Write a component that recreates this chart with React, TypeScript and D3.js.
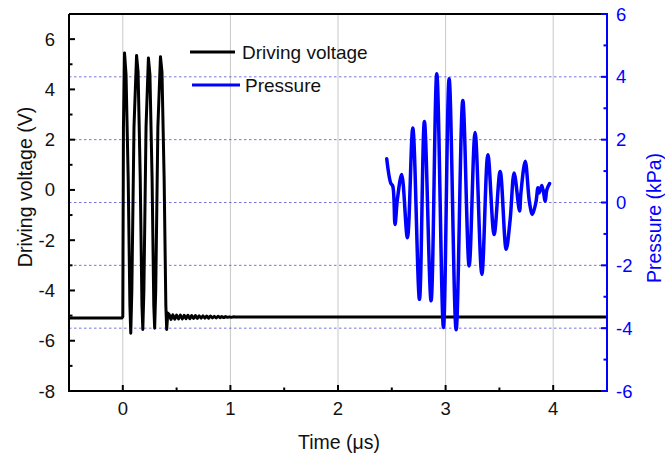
import React from "react";
import * as d3 from "d3";

const W = 665, H = 458;
const L = 69, R = 607, T = 14, B = 391;

const xTicks = [0, 1, 2, 3, 4];
const xMinor = [0.5, 1.5, 2.5, 3.5];
const leftTicks = [-8, -6, -4, -2, 0, 2, 4, 6];
const leftMinor = [-7, -5, -3, -1, 1, 3, 5];
const rightTicks = [-6, -4, -2, 0, 2, 4, 6];
const rightMinor = [-5, -3, -1, 1, 3, 5];
const rightGrid = [-4, -2, 0, 2, 4];

// Driving voltage (V) vs time (µs)
const voltT = [-0.5, -0.01, 0.0, 0.006, 0.016, 0.03, 0.05, 0.066, 0.074,
  0.084, 0.104, 0.128, 0.142, 0.162, 0.178, 0.186,
  0.196, 0.216, 0.238, 0.252, 0.272, 0.288, 0.296,
  0.306, 0.326, 0.35, 0.364, 0.384, 0.4, 0.408, 0.418,
  0.43, 0.448, 0.465, 0.483, 0.50, 0.518, 0.535, 0.553, 0.57, 0.588,
  0.605, 0.623, 0.64, 0.658, 0.675, 0.693, 0.71, 0.728, 0.745, 0.763,
  0.78, 0.798, 0.815, 0.833, 0.85, 0.868, 0.885, 0.903, 0.92, 0.938,
  0.955, 0.973, 0.99, 1.008, 1.025, 1.05, 4.5];
const voltV = [-5.1, -5.1, -5.05, 2.5, 5.45, 4.6, 0.5, -4.6, -5.7,
  -4.0, 2.5, 5.35, 4.7, 0.5, -4.6, -5.55,
  -4.0, 2.5, 5.25, 4.6, 0.5, -4.6, -5.5,
  -4.0, 2.5, 5.3, 4.7, 0.5, -4.6, -5.55, -4.9,
  -4.95, -5.15, -4.97, -5.14, -4.98, -5.13, -4.98, -5.13, -4.99, -5.12,
  -4.99, -5.12, -5.0, -5.11, -5.0, -5.11, -5.01, -5.1, -5.01, -5.1,
  -5.02, -5.1, -5.02, -5.09, -5.03, -5.09, -5.03, -5.08, -5.04, -5.08,
  -5.04, -5.07, -5.05, -5.07, -5.05, -5.06, -5.06];

// Pressure (kPa) vs time (µs)
const presT = [2.453, 2.49, 2.509, 2.53, 2.552, 2.592, 2.645, 2.695, 2.757, 2.803, 2.865, 2.918, 2.98, 3.033, 3.098, 3.16, 3.219, 3.274, 3.337, 3.393, 3.451, 3.507, 3.563, 3.6, 3.637, 3.687, 3.70, 3.74, 3.78, 3.807, 3.839, 3.858, 3.868, 3.895, 3.926, 3.94, 3.966];
const presP = [1.39, 0.62, 0.52, -0.70, 0.1, 0.89, -1.12, 2.37, -3.08, 2.58, -3.13, 4.10, -3.98, 3.94, -4.05, 3.25, -2.02, 2.23, -2.29, 1.52, -1.02, 0.99, -1.49, -0.54, 0.94, -0.27, 0.31, 1.31, -0.01, -0.38, 0.0, 0.47, 0.3, 0.54, 0.04, 0.4, 0.6];

const FONT = "'Liberation Sans', Arial, sans-serif";
const BLUE = "#0000ff";

export default function App() {
  const x = d3.scaleLinear().domain([-0.5, 4.5]).range([L, R]);
  const yL = d3.scaleLinear().domain([-8, 7]).range([B, T]);
  const yR = d3.scaleLinear().domain([-6, 6]).range([B, T]);

  const voltLine = d3.line<number>().x((_, i) => x(voltT[i])).y((v) => yL(v));
  const presLine = d3
    .line<number>()
    .x((_, i) => x(presT[i]))
    .y((p) => yR(p))
    .curve(d3.curveCatmullRom.alpha(0.5));

  return (
    <svg width={W} height={H} style={{ position: "absolute", left: 0, top: 0, background: "#fff" }} fontFamily={FONT}>
      <defs>
        <clipPath id="plot">
          <rect x={L} y={T} width={R - L} height={B - T} />
        </clipPath>
      </defs>
      {xTicks.map((t) => (
        <line key={"gx" + t} x1={x(t)} x2={x(t)} y1={T} y2={B} stroke="#c8c8c8" strokeWidth={1} />
      ))}
      {rightGrid.map((t) => (
        <line key={"gy" + t} x1={L} x2={R} y1={yR(t)} y2={yR(t)} stroke="#5050d0" strokeWidth={0.8} strokeDasharray="2.5,2.5" />
      ))}
      <g clipPath="url(#plot)">
        <path d={voltLine(voltV) || ""} fill="none" stroke="#000" strokeWidth={3} strokeLinejoin="round" />
        <path d={presLine(presP) || ""} fill="none" stroke={BLUE} strokeWidth={3.5} strokeLinejoin="round" strokeLinecap="round" />
      </g>
      <line x1={L} x2={R} y1={T} y2={T} stroke="#000" strokeWidth={2} />
      <line x1={L} x2={R} y1={B} y2={B} stroke="#000" strokeWidth={2} />
      <line x1={L} x2={L} y1={T} y2={B + 1} stroke="#000" strokeWidth={2} />
      <line x1={R} x2={R} y1={T - 1} y2={B + 1} stroke={BLUE} strokeWidth={2} />
      {xTicks.map((t) => (
        <g key={"xt" + t}>
          <line x1={x(t)} x2={x(t)} y1={B} y2={B - 6} stroke="#000" strokeWidth={2} />
          <text x={x(t)} y={B + 24} textAnchor="middle" fontSize={18.5} fill="#111">{t}</text>
        </g>
      ))}
      {xMinor.map((t) => (
        <line key={"xm" + t} x1={x(t)} x2={x(t)} y1={B} y2={B - 3.5} stroke="#000" strokeWidth={2} />
      ))}
      {leftTicks.map((t) => (
        <g key={"lt" + t}>
          <line x1={L} x2={L + 6} y1={yL(t)} y2={yL(t)} stroke="#000" strokeWidth={2} />
          <text x={L - 14} y={yL(t) + 6.5} textAnchor="end" fontSize={18.5} fill="#111">{t}</text>
        </g>
      ))}
      {leftMinor.map((t) => (
        <line key={"lm" + t} x1={L} x2={L + 3.5} y1={yL(t)} y2={yL(t)} stroke="#000" strokeWidth={2} />
      ))}
      {rightTicks.map((t) => (
        <g key={"rt" + t}>
          <line x1={R} x2={R - 6} y1={yR(t)} y2={yR(t)} stroke={BLUE} strokeWidth={2} />
          <text x={R + 9} y={yR(t) + 6.5} textAnchor="start" fontSize={18.5} fill={BLUE}>{t}</text>
        </g>
      ))}
      {rightMinor.map((t) => (
        <line key={"rm" + t} x1={R} x2={R - 3.5} y1={yR(t)} y2={yR(t)} stroke={BLUE} strokeWidth={2} />
      ))}
      <text x={339} y={449} textAnchor="middle" fontSize={19.5} fill="#111">Time (μs)</text>
      <text transform={`translate(32,187) rotate(-90)`} textAnchor="middle" fontSize={19.5} fill="#111">Driving voltage (V)</text>
      <text transform={`translate(661,218) rotate(-90)`} textAnchor="middle" fontSize={19.5} fill={BLUE}>Pressure (kPa)</text>
      <line x1={190} x2={235} y1={52} y2={52} stroke="#000" strokeWidth={3} />
      <text x={242} y={59} fontSize={19} fill="#111">Driving voltage</text>
      <line x1={192} x2={240} y1={85} y2={85} stroke={BLUE} strokeWidth={3} />
      <text x={245} y={92} fontSize={19} fill="#111">Pressure</text>
    </svg>
  );
}
